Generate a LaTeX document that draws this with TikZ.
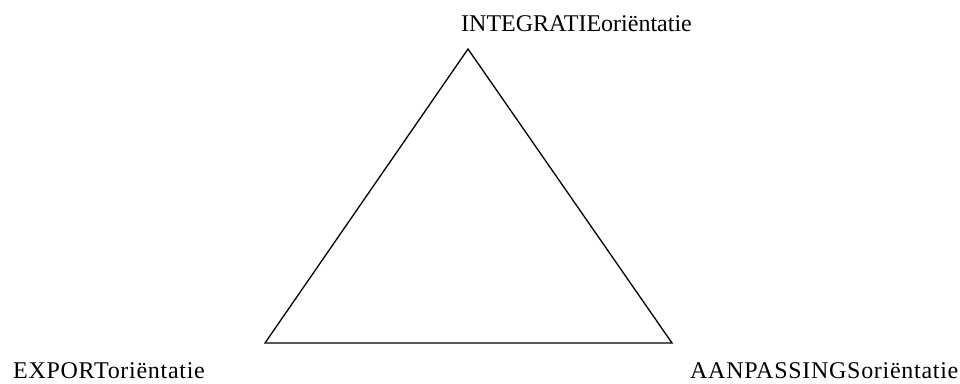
\documentclass[tikz,border=0pt]{standalone}
\usepackage{fontspec}
\setmainfont{Liberation Serif}
\newfontfamily\spacedserif[LetterSpace=3]{Liberation Serif}
\begin{document}
\begin{tikzpicture}[x=1pt,y=1pt,
  lbl/.style={anchor=base west,inner sep=0pt,font=\fontsize{24}{28}\selectfont},
  lblsp/.style={anchor=base west,inner sep=0pt,font=\spacedserif\fontsize{24}{28}\selectfont},
  edge/.style={line width=1.3pt,line join=miter}]
\useasboundingbox (0,0) rectangle (960,383);
\coordinate (top) at (468,334);
\coordinate (bl) at (265,40);
\coordinate (br) at (672,40);
\draw[edge] (top) -- (bl) -- (br) -- cycle;
\node[lbl] (integ) at (461,351) {INTEGRATIEoriëntatie};
\node[lblsp] (export) at (13,5) {EXPORToriëntatie};
\node[lblsp] (aanp) at (690,5) {AANPASSINGSoriëntatie};
\end{tikzpicture}
\end{document}
